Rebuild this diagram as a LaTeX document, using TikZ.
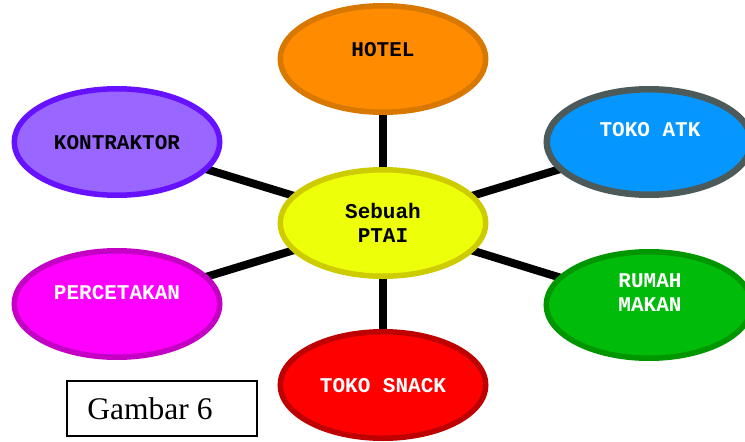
\documentclass[tikz,border=0pt]{standalone}
\usepackage{fontspec}
\setmainfont{Liberation Serif}
\newfontfamily\monob{Liberation Mono}
\usetikzlibrary{shapes.geometric,backgrounds}
\definecolor{orangeF}{HTML}{FF8C00}\definecolor{orangeD}{HTML}{D87800}
\definecolor{purpleF}{HTML}{9966FF}\definecolor{purpleD}{HTML}{6611FF}
\definecolor{blueF}{HTML}{0597FF}\definecolor{blueD}{HTML}{4D5A5A}
\definecolor{yellowF}{HTML}{EEFF0A}\definecolor{yellowD}{HTML}{CCCC00}
\definecolor{magentaF}{HTML}{FF00FF}\definecolor{magentaD}{HTML}{C400C4}
\definecolor{greenF}{HTML}{00BB0A}\definecolor{greenD}{HTML}{009600}
\definecolor{redF}{HTML}{FF0000}\definecolor{redD}{HTML}{BE0000}
\begin{document}
\begin{tikzpicture}[x=1pt,y=-1pt,
  bubble/.style={ellipse, draw, line width=5.5pt, minimum width=205.5pt,
    minimum height=106.5pt, inner sep=0pt},
  spoke/.style={line width=8pt, black},
  lbl/.style={font=\monob\bfseries\fontsize{21}{24}\selectfont, inner sep=0pt,
    anchor=base, align=center},
]
\useasboundingbox (0,0) rectangle (745,442);

% bubbles
\node[bubble, fill=orangeF, draw=orangeD] (hotel) at (383,59) {};
\node[bubble, fill=purpleF, draw=purpleD] (kontraktor) at (117,142) {};
\node[bubble, fill=blueF, draw=blueD, line width=6.5pt, minimum width=204.5pt, minimum height=105.5pt] (atk) at (649,142) {};
\node[bubble, fill=yellowF, draw=yellowD] (ptai) at (383,223) {};
\node[bubble, fill=magentaF, draw=magentaD] (percetakan) at (117,304) {};
\node[bubble, fill=greenF, draw=greenD] (rumah) at (649,305) {};
\node[bubble, fill=redF, draw=redD] (snack) at (383,385) {};

% labels (base anchor: baseline of the last line)
\node[lbl] (thotel) at (383,56) {HOTEL};
\node[lbl] (tkontraktor) at (117,149) {KONTRAKTOR};
\node[lbl, text=white] (tatk) at (650,136) {TOKO ATK};
\node[lbl] (tptai) at (383,242) {Sebuah\\PTAI};
\node[lbl, text=white] (tpercetakan) at (117,299) {PERCETAKAN};
\node[lbl, text=white] (trumah) at (650,311) {RUMAH\\MAKAN};
\node[lbl, text=white] (tsnack) at (383,392) {TOKO SNACK};

% spokes behind the bubbles
\begin{pgfonlayer}{background}
\draw[spoke] (ptai.center) -- (hotel.center);
\draw[spoke] (ptai.center) -- (kontraktor.center);
\draw[spoke] (ptai.center) -- (atk.center);
\draw[spoke] (ptai.center) -- (percetakan.center);
\draw[spoke] (ptai.center) -- (rumah.center);
\draw[spoke] (ptai.center) -- (snack.center);
\end{pgfonlayer}

% caption box
\node[draw, line width=1.8pt, minimum width=190.2pt, minimum height=55.2pt, inner sep=0pt] (capbox) at (162,408.5) {};
\node[font=\fontsize{31.5}{36}\selectfont, anchor=base, inner sep=0pt] (captext) at (150,419) {Gambar 6};
\end{tikzpicture}
\end{document}
